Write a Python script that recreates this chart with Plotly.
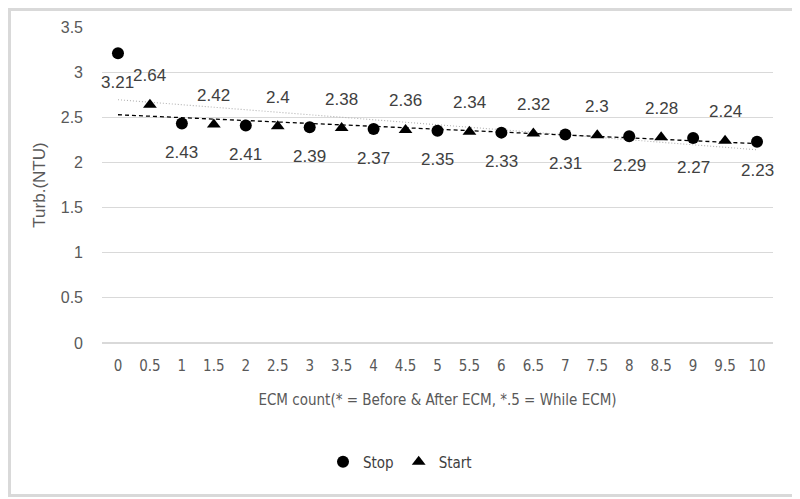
import numpy as np
import plotly.graph_objects as go

# ECM count, whole numbers = before & after ECM, .5 = while ECM
stop_x = [0, 1, 2, 3, 4, 5, 6, 7, 8, 9, 10]
stop_y = [3.21, 2.43, 2.41, 2.39, 2.37, 2.35, 2.33, 2.31, 2.29, 2.27, 2.23]
start_x = [0.5, 1.5, 2.5, 3.5, 4.5, 5.5, 6.5, 7.5, 8.5, 9.5]
start_y = [2.64, 2.42, 2.4, 2.38, 2.36, 2.34, 2.32, 2.3, 2.28, 2.24]
x_ticks = [0, 0.5, 1, 1.5, 2, 2.5, 3, 3.5, 4, 4.5, 5, 5.5, 6, 6.5, 7, 7.5, 8, 8.5, 9, 9.5, 10]
y_ticks = [0, 0.5, 1, 1.5, 2, 2.5, 3, 3.5]
y_tick_text = ['0', '0.5', '1', '1.5', '2', '2.5', '3', '3.5']

# linear trendlines, drawn over the whole axis like excel does
trend_x = [x_ticks[0], x_ticks[-1]]
stop_fit = np.polyfit(stop_x, stop_y, 1)
start_fit = np.polyfit(start_x, start_y, 1)

fig = go.Figure()
fig.add_trace(go.Scatter(x=trend_x, y=np.polyval(stop_fit, trend_x), mode='lines',
                         line=dict(color='#b0b0b0', width=1.1, dash='1px,2px'), showlegend=False, hoverinfo='skip'))
fig.add_trace(go.Scatter(x=trend_x, y=np.polyval(start_fit, trend_x), mode='lines',
                         line=dict(color='#000000', width=1.3, dash='4px,3px'), showlegend=False, hoverinfo='skip'))
fig.add_trace(go.Scatter(x=stop_x, y=stop_y, mode='markers', name='Stop',
                         marker=dict(symbol='circle', size=12, color='black')))
fig.add_trace(go.Scatter(x=start_x, y=start_y, mode='markers', name='Start',
                         marker=dict(symbol='triangle-up', size=12, color='black')))

label_font = dict(family='Liberation Sans, Arial', size=17, color='#404040')
for x, y in zip(stop_x, stop_y):
    fig.add_annotation(x=x, y=y, text=str(y), showarrow=False, yshift=-29, font=label_font)
for x, y in zip(start_x, start_y):
    fig.add_annotation(x=x, y=y, text=str(y), showarrow=False, yshift=29, font=label_font)

# page body has an 8px margin, so everything sits 8px up/left of the target
W, H, L, T = 800, 499, 94, 19
PW, PH = 671, 316
fig.add_shape(type='rect', xref='paper', yref='paper',
              x0=(1.5 - L) / PW, x1=(789 - L) / PW,
              y0=(T + PH - 487.5) / PH, y1=(T + PH - 1.5) / PH,
              line=dict(color='#d9d9d9', width=3))

fig.update_layout(
    width=W, height=H,
    margin=dict(l=L, r=W - L - PW, t=T, b=H - T - PH),
    plot_bgcolor='white', paper_bgcolor='white',
    font=dict(family='DejaVu Sans Condensed, Roboto', color='#595959', size=15),
    legend=dict(orientation='h', xref='container', yref='container', x=0.49, y=0.09,
                xanchor='center', yanchor='middle', font=dict(size=15, color='#404040'),
                itemwidth=30, tracegroupgap=0),
)
fig.update_xaxes(range=[-0.25, 10.25], tickvals=x_ticks, ticktext=[str(v) for v in x_ticks],
                 showgrid=False, zeroline=False, showline=False, ticklabelstandoff=12,
                 automargin=False, tickfont=dict(size=15),
                 title=dict(text='ECM count(* = Before & After ECM, *.5 = While ECM)',
                            font=dict(size=15), standoff=20))
fig.update_yaxes(range=[0, 3.5], tickvals=y_ticks, ticktext=y_tick_text,
                 showgrid=True, gridcolor='#d9d9d9', gridwidth=1.3,
                 zeroline=True, zerolinecolor='#d9d9d9', zerolinewidth=1.5, ticklabelstandoff=18,
                 automargin=False, tickfont=dict(family='Liberation Sans, Arial', size=16),
                 title=dict(text='Turb.(NTU)', font=dict(family='Liberation Sans, Arial', size=17), standoff=10))

fig.write_html('out.html')
